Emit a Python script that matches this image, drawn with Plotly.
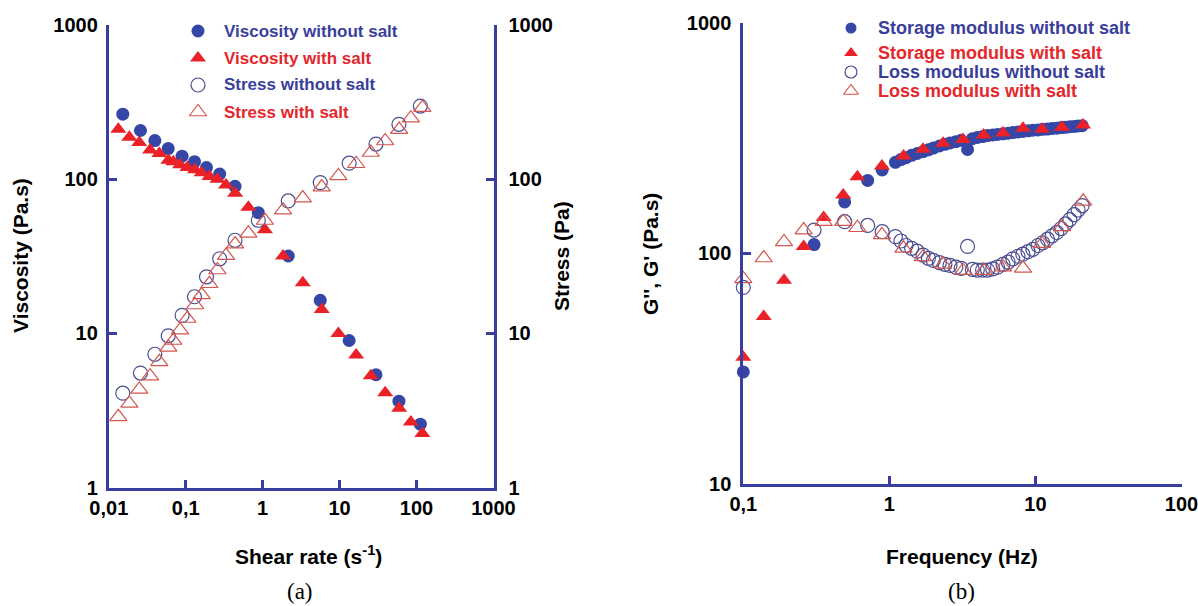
import plotly.graph_objects as go

# ---------------- data: panel (a) ----------------
shear_nosalt = [0.0152, 0.0258, 0.0397, 0.0592, 0.0896, 0.130, 0.186, 0.276, 0.437, 0.877,
                2.15, 5.6, 13.3, 29.7, 59, 112]
visc_nosalt = [264, 207, 178, 158, 141, 130, 119, 108, 90, 60.7,
               31.8, 16.4, 9.0, 5.4, 3.64, 2.58]
stress_nosalt = [4.1, 5.54, 7.33, 9.66, 13.1, 17.3, 23.3, 30.5, 40.2, 54.2,
                 72.3, 95.1, 127, 169, 227, 298]

shear_salt = [0.0133, 0.0185, 0.0249, 0.0344, 0.0454, 0.0594, 0.069, 0.0843, 0.105, 0.132,
              0.161, 0.203, 0.258, 0.334, 0.438, 0.652, 1.07, 1.84, 3.32, 5.86,
              9.64, 16.4, 25.4, 39.1, 59.4, 84.3, 119]
visc_salt = [211, 187, 173, 155, 147, 133, 130, 124, 119, 115,
             110, 104, 99.8, 91.6, 81, 65.8, 47, 31.8, 21.3, 14.3,
             10.0, 7.24, 5.32, 4.12, 3.27, 2.67, 2.25]
stress_salt = [2.88, 3.52, 4.34, 5.29, 6.55, 8.13, 9.0, 10.5, 12.5, 15.3,
               17.8, 21.0, 25.8, 32, 38, 44.6, 54, 63, 75.5, 89,
               105, 126, 149, 177, 210, 249, 291]

# ---------------- data: panel (b) ----------------
freq_nosalt = [0.1, 0.305, 0.494, 0.71, 0.893, 1.1, 1.2, 1.3, 1.42, 1.55,
               1.7, 1.85, 2.0, 2.2, 2.4, 2.6, 2.85, 3.1, 3.43, 3.7,
               4.0, 4.35, 4.7, 5.1, 5.5, 6.0, 6.5, 7.0, 7.6, 8.2,
               8.9, 9.6, 10.4, 11.2, 12.1, 13.0, 14.0, 15.0, 16.1, 17.2,
               18.4, 19.6, 20.9]
storage_nosalt = [30.5, 109, 167, 207, 230, 248, 255, 260, 266, 271,
                  276, 281, 286, 292, 297, 301, 305, 309, 282, 314,
                  318, 321, 324, 326, 328, 330, 332, 334, 336, 338,
                  340, 342, 343, 345, 346, 348, 349, 351, 352, 354,
                  355, 357, 358]
loss_nosalt = [71, 126, 137, 132, 124, 118, 113, 108, 105, 102,
               98, 95, 93, 91, 89.5, 88.5, 87, 86, 107, 85,
               84.5, 84.5, 84.5, 85.5, 87, 89.5, 91.5, 94.5, 97, 99,
               101.5, 104, 108, 111, 115, 119, 123, 128, 134, 140,
               147, 154, 161]

freq_salt = [0.1, 0.138, 0.190, 0.259, 0.355, 0.483, 0.604, 0.889, 1.25, 1.70,
             2.33, 3.19, 4.42, 6.0, 8.22, 11.1, 15.2, 21.2]
storage_salt = [35.3, 53.1, 76.3, 107, 143, 179, 215, 239, 264, 283,
                300, 312, 326, 333, 349, 345, 352, 360]
loss_salt = [77.3, 95.3, 112, 126, 137, 137, 129, 120, 105, 96.4,
             89.4, 84, 84, 87, 86, 110, 130, 168]

x_ticks_a = [0.01, 0.1, 1, 10, 100, 1000]
x_ticktext_a = ["0,01", "0,1", "1", "10", "100", "1000"]
y_ticks_a = [1, 10, 100, 1000]
y_ticktext_a = ["1", "10", "100", "1000"]
x_ticks_b = [0.1, 1, 10, 100]
x_ticktext_b = ["0,1", "1", "10", "100"]
y_ticks_b = [10, 100, 1000]
y_ticktext_b = ["10", "100", "1000"]

legend_a = ["Viscosity without salt", "Viscosity with salt", "Stress without salt", "Stress with salt"]
legend_b = ["Storage modulus without salt", "Storage modulus with salt",
            "Loss modulus without salt", "Loss modulus with salt"]

# ---------------- styling ----------------
W, H = 1198, 606
AX = "#3a3f9f"
BLUE = "#3447a6"
RED = "#ea2127"
OPEN_BLUE = "#4a4e90"
OPEN_RED = "#d4564f"
TXT_BLUE = "#3a3e9b"
TXT_RED = "#e5262b"
FONT = "Arial, Liberation Sans, sans-serif"

def px(x):
    return x / W

def py(y):
    return 1 - y / H

filled_circle = dict(symbol="circle", size=13, color=BLUE, line=dict(width=0))
filled_tri = dict(symbol="triangle-up", size=14, color=RED, line=dict(width=0))
open_circle = dict(symbol="circle-open", size=14, color=OPEN_BLUE, line=dict(width=1.2))
open_tri = dict(symbol="triangle-up-open", size=15, color=OPEN_RED, line=dict(width=1.2))

fig = go.Figure()

# panel (a)
fig.add_trace(go.Scatter(x=shear_nosalt, y=visc_nosalt, mode="markers", marker=filled_circle,
                         xaxis="x", yaxis="y", cliponaxis=False, showlegend=False))
fig.add_trace(go.Scatter(x=shear_salt, y=visc_salt, mode="markers", marker=filled_tri,
                         xaxis="x", yaxis="y", cliponaxis=False, showlegend=False))
fig.add_trace(go.Scatter(x=shear_nosalt, y=stress_nosalt, mode="markers", marker=open_circle,
                         xaxis="x", yaxis="y2", cliponaxis=False, showlegend=False))
fig.add_trace(go.Scatter(x=shear_salt, y=stress_salt, mode="markers", marker=open_tri,
                         xaxis="x", yaxis="y2", cliponaxis=False, showlegend=False))

# panel (b)
fig.add_trace(go.Scatter(x=freq_nosalt, y=storage_nosalt, mode="markers", marker=filled_circle,
                         xaxis="x2", yaxis="y3", cliponaxis=False, showlegend=False))
fig.add_trace(go.Scatter(x=freq_salt, y=storage_salt, mode="markers", marker=filled_tri,
                         xaxis="x2", yaxis="y3", cliponaxis=False, showlegend=False))
fig.add_trace(go.Scatter(x=freq_nosalt, y=loss_nosalt, mode="markers", marker=open_circle,
                         xaxis="x2", yaxis="y3", cliponaxis=False, showlegend=False))
fig.add_trace(go.Scatter(x=freq_salt, y=loss_salt, mode="markers", marker=open_tri,
                         xaxis="x2", yaxis="y3", cliponaxis=False, showlegend=False))

# legend glyphs on a pixel overlay
leg_a_y = [31, 58, 85, 112]
leg_b_y = [28, 53, 72, 91]
glyphs = [filled_circle, filled_tri, open_circle, open_tri]
for i in range(4):
    g = dict(glyphs[i])
    fig.add_trace(go.Scatter(x=[198], y=[leg_a_y[i]], mode="markers", marker=g,
                             xaxis="x3", yaxis="y4", cliponaxis=False, showlegend=False))
    g2 = dict(glyphs[i])
    g2["size"] = g2["size"] - 2
    fig.add_trace(go.Scatter(x=[851], y=[leg_b_y[i]], mode="markers", marker=g2,
                             xaxis="x3", yaxis="y4", cliponaxis=False, showlegend=False))

axis_common = dict(type="log", showline=True, linecolor=AX, linewidth=3, ticks="inside",
                   ticklen=8, tickwidth=3, tickcolor=AX, showgrid=False, zeroline=False,
                   tickfont=dict(family=FONT, size=20, color="black", weight=700),
                   mirror=False, automargin=False, ticklabeloverflow="allow")

fig.update_layout(
    width=W, height=H, margin=dict(l=0, r=0, t=0, b=0, autoexpand=False),
    paper_bgcolor="white", plot_bgcolor="rgba(0,0,0,0)",
    showlegend=False,
    xaxis=dict(axis_common, domain=[px(108.8), px(493.5)], range=[-2, 3], anchor="y",
               tickvals=x_ticks_a, ticktext=x_ticktext_a),
    yaxis=dict(axis_common, domain=[py(487.7), py(25)], range=[0, 3], anchor="x",
               tickvals=y_ticks_a, ticktext=y_ticktext_a, ticklabelstandoff=4),
    yaxis2=dict(axis_common, range=[0, 3], anchor="x", overlaying="y", side="right",
                tickvals=y_ticks_a, ticktext=y_ticktext_a, ticklabelstandoff=8),
    xaxis2=dict(axis_common, domain=[px(743.3), px(1181.5)], range=[-1, 2], anchor="y3",
                tickvals=x_ticks_b, ticktext=x_ticktext_b),
    yaxis3=dict(axis_common, domain=[py(483.5), py(22.9)], range=[1, 3], anchor="x2",
                tickvals=y_ticks_b, ticktext=y_ticktext_b, ticklabelstandoff=5),
    xaxis3=dict(domain=[0, 1], range=[0, W], visible=False, anchor="y4", fixedrange=True,
                automargin=False),
    yaxis4=dict(domain=[0, 1], range=[H, 0], visible=False, anchor="x3", fixedrange=True,
                automargin=False),
)

ann = []
title_font = dict(family=FONT, size=21, color="black", weight=700)
ann.append(dict(text="Viscosity (Pa.s)", x=px(20), y=py(256), xref="paper", yref="paper",
                showarrow=False, textangle=-90, font=title_font, xanchor="center", yanchor="middle"))
ann.append(dict(text="Stress (Pa)", x=px(561), y=py(256), xref="paper", yref="paper",
                showarrow=False, textangle=-90, font=title_font, xanchor="center", yanchor="middle"))
ann.append(dict(text="Shear rate (s<sup>-1</sup>)", x=px(308), y=py(555), xref="paper", yref="paper",
                showarrow=False, font=title_font, xanchor="center", yanchor="middle"))
ann.append(dict(text="G'', G' (Pa.s)", x=px(650), y=py(254), xref="paper", yref="paper",
                showarrow=False, textangle=-90, font=title_font, xanchor="center", yanchor="middle"))
ann.append(dict(text="Frequency (Hz)", x=px(962), y=py(556), xref="paper", yref="paper",
                showarrow=False, font=title_font, xanchor="center", yanchor="middle"))
ann.append(dict(text="(a)", x=px(300), y=py(591), xref="paper", yref="paper", showarrow=False,
                font=dict(family="Liberation Serif, Times New Roman, serif", size=23, color="black"),
                xanchor="center", yanchor="middle"))
ann.append(dict(text="(b)", x=px(961), y=py(591), xref="paper", yref="paper", showarrow=False,
                font=dict(family="Liberation Serif, Times New Roman, serif", size=23, color="black"),
                xanchor="center", yanchor="middle"))

leg_colors = [TXT_BLUE, TXT_RED, TXT_BLUE, TXT_RED]
for i in range(4):
    ann.append(dict(text=legend_a[i], x=px(222), y=py(leg_a_y[i]), xref="paper", yref="paper",
                    showarrow=False, xanchor="left", yanchor="middle",
                    font=dict(family=FONT, size=17, color=leg_colors[i], weight=700)))
    ann.append(dict(text=legend_b[i], x=px(876), y=py(leg_b_y[i]), xref="paper", yref="paper",
                    showarrow=False, xanchor="left", yanchor="middle",
                    font=dict(family=FONT, size=18, color=leg_colors[i], weight=700)))

fig.update_layout(annotations=ann)
fig.write_html("out.html")
